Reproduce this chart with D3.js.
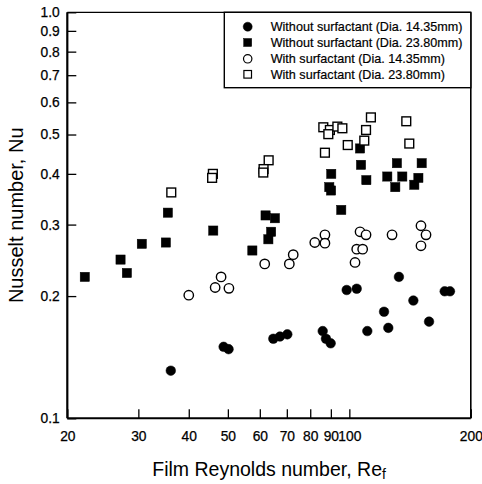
<!DOCTYPE html>
<html>
<head>
<meta charset="utf-8">
<script src="https://cdn.jsdelivr.net/npm/d3@7"></script>
<style>
  html, body { margin: 0; padding: 0; background: #fff; }
  svg { display: block; font-family: Arial, "Liberation Sans", Helvetica, sans-serif; }
</style>
</head>
<body>
<svg id="chart" width="482" height="484"></svg>
<script>
// ---- data (Film Reynolds number Re_f, Nusselt number Nu) ----
const seriesNames = [
  "Without surfactant (Dia. 14.35mm)",
  "Without surfactant (Dia. 23.80mm)",
  "With surfactant (Dia. 14.35mm)",
  "With surfactant (Dia. 23.80mm)"
];

const withoutSmallRe = [36.1, 48.8, 50.2, 64.8, 67.3, 70.2, 85.9, 87.5, 89.9, 98.5, 104.3, 110.8, 121.9, 124.9, 132.7, 144.1, 157.6, 172.3, 177.6];
const withoutSmallNu = [0.131, 0.150, 0.148, 0.157, 0.159, 0.161, 0.164, 0.157, 0.153, 0.207, 0.2085, 0.164, 0.183, 0.167, 0.223, 0.195, 0.173, 0.2055, 0.2055];

const withoutLargeRe = [22.1, 27.1, 28.1, 30.6, 35.1, 35.5, 46.0, 57.5, 62.0, 65.4, 64.0, 63.0, 90.2, 89.2, 90.1, 95.5, 106.3, 106.9, 110.2, 124.2, 131.2, 130.0, 135.3, 148.3, 144.9, 151.1];
const withoutLargeNu = [0.223, 0.246, 0.228, 0.269, 0.271, 0.321, 0.290, 0.259, 0.316, 0.311, 0.288, 0.276, 0.400, 0.371, 0.364, 0.326, 0.462, 0.421, 0.386, 0.394, 0.425, 0.371, 0.394, 0.391, 0.376, 0.425];

const withSmallRe = [40.0, 48.1, 46.5, 50.3, 61.7, 71.0, 72.6, 82.1, 87.0, 87.0, 106.3, 110.0, 104.3, 107.9, 103.3, 127.6, 150.5, 154.9, 150.5];
const withSmallNu = [0.201, 0.223, 0.210, 0.209, 0.240, 0.240, 0.253, 0.271, 0.283, 0.270, 0.288, 0.283, 0.261, 0.261, 0.242, 0.283, 0.298, 0.283, 0.266];

const withLargeRe = [36.2, 45.9, 45.7, 63.1, 61.3, 61.2, 86.2, 89.5, 88.7, 93.4, 96.1, 113.1, 110.0, 108.9, 99.1, 87.0, 138.4, 140.8];
const withLargeNu = [0.360, 0.400, 0.391, 0.432, 0.411, 0.403, 0.521, 0.513, 0.501, 0.523, 0.518, 0.551, 0.513, 0.483, 0.471, 0.451, 0.539, 0.475];

const xTickValues = [20, 30, 40, 50, 60, 70, 80, 90, 100, 200];
const yTickValues = [0.1, 0.2, 0.3, 0.4, 0.5, 0.6, 0.7, 0.8, 0.9, 1.0];
const yTickLabels = ["0.1", "0.2", "0.3", "0.4", "0.5", "0.6", "0.7", "0.8", "0.9", "1.0"];

(function () {
// ---- layout ----
const pLeft = 67.3, pRight = 470.8, pTop = 12.3, pBottom = 418.3;
const svg = d3.select("#chart");

const x = d3.scaleLog().domain([20, 200]).range([pLeft, pRight]);
const y = d3.scaleLog().domain([0.1, 1.0]).range([pBottom, pTop]);

// axes
const xAxis = d3.axisBottom(x)
  .tickValues(xTickValues)
  .tickFormat(d3.format("d"))
  .tickSizeInner(-9).tickSizeOuter(0).tickPadding(13);
const gx = svg.append("g").attr("transform", `translate(0,${pBottom})`).call(xAxis);
gx.select(".domain").remove();
gx.selectAll(".tick line").attr("stroke", "#000").attr("stroke-width", 1.3);
gx.selectAll(".tick text").attr("fill", "#000").attr("font-size", 13.8)
  .attr("stroke", "#000").attr("stroke-width", 0.25)
  .attr("font-family", "Arial, 'Liberation Sans', sans-serif");

const yAxis = d3.axisLeft(y)
  .tickValues(yTickValues)
  .tickFormat((d, i) => yTickLabels[i])
  .tickSizeInner(-9).tickSizeOuter(0).tickPadding(7.5);
const gy = svg.append("g").attr("transform", `translate(${pLeft},0)`).call(yAxis);
gy.select(".domain").remove();
gy.selectAll(".tick line").attr("stroke", "#000").attr("stroke-width", 1.3);
gy.selectAll(".tick text").attr("fill", "#000").attr("font-size", 13.8)
  .attr("stroke", "#000").attr("stroke-width", 0.25)
  .attr("font-family", "Arial, 'Liberation Sans', sans-serif");

// frame
svg.append("line").attr("x1", x(20)).attr("x2", x(200)).attr("y1", y(0.1)).attr("y2", y(0.1)).attr("stroke", "#000").attr("stroke-width", 2);
svg.append("line").attr("x1", x(20)).attr("x2", x(20)).attr("y1", y(0.1)).attr("y2", y(1.0)).attr("stroke", "#000").attr("stroke-width", 2.2);
svg.append("line").attr("x1", x(200)).attr("x2", x(200)).attr("y1", y(0.1)).attr("y2", y(1.0)).attr("stroke", "#000").attr("stroke-width", 1.6);
svg.append("line").attr("x1", x(20)).attr("x2", x(200)).attr("y1", y(1.0)).attr("y2", y(1.0)).attr("stroke", "#000").attr("stroke-width", 1.2);

// axis titles
const xt = svg.append("text")
  .attr("x", (pLeft + pRight) / 2).attr("y", 476)
  .attr("text-anchor", "middle").attr("font-size", 19.5).attr("fill", "#000");
xt.append("tspan").text("Film Reynolds number, Re");
xt.append("tspan").attr("font-size", 14).attr("dy", 3).text("f");

svg.append("text")
  .attr("transform", `translate(23,${(pTop + pBottom) / 2}) rotate(-90)`)
  .attr("text-anchor", "middle").attr("font-size", 20).attr("fill", "#000")
  .text("Nusselt number, Nu");

// ---- marks ----
const zip = (a, b) => a.map((v, i) => ({ x: v, y: b[i] }));
const plot = svg.append("g");

function drawCircles(data, filled) {
  plot.append("g").selectAll("circle").data(data).join("circle")
    .attr("cx", d => x(d.x)).attr("cy", d => y(d.y))
    .attr("r", filled ? 4.8 : 4.7)
    .attr("fill", filled ? "#000" : "#fff")
    .attr("stroke", "#000").attr("stroke-width", filled ? 0.5 : 1.4);
}
function drawSquares(data, filled) {
  const s = filled ? 9.2 : 8.8;
  plot.append("g").selectAll("rect").data(data).join("rect")
    .attr("x", d => x(d.x) - s / 2).attr("y", d => y(d.y) - s / 2)
    .attr("width", s).attr("height", s)
    .attr("fill", filled ? "#000" : "#fff")
    .attr("stroke", "#000").attr("stroke-width", filled ? 0.5 : 1.4);
}

drawCircles(zip(withoutSmallRe, withoutSmallNu), true);
drawSquares(zip(withoutLargeRe, withoutLargeNu), true);
drawCircles(zip(withSmallRe, withSmallNu), false);
drawSquares(zip(withLargeRe, withLargeNu), false);

// ---- legend ----
const legLeft = 224.3, legBottom = 87.7;
svg.append("rect")
  .attr("x", legLeft).attr("y", pTop)
  .attr("width", pRight - legLeft).attr("height", legBottom - pTop)
  .attr("fill", "#fff").attr("stroke", "#000").attr("stroke-width", 1.4);

const legRows = [26.7, 42.5, 58.8, 74.3];
const legendSyms = [
  { type: "circle", filled: true },
  { type: "square", filled: true },
  { type: "circle", filled: false },
  { type: "square", filled: false }
];
const lg = svg.append("g");
seriesNames.forEach((name, i) => {
  const sym = legendSyms[i];
  const cy = legRows[i], cx = 247.7;
  if (sym.type === "circle") {
    lg.append("circle").attr("cx", cx).attr("cy", cy).attr("r", sym.filled ? 4.5 : 4.2)
      .attr("fill", sym.filled ? "#000" : "#fff").attr("stroke", "#000").attr("stroke-width", sym.filled ? 0.5 : 1.2);
  } else {
    const s = sym.filled ? 8 : 7.6;
    lg.append("rect").attr("x", cx - s / 2).attr("y", cy - s / 2).attr("width", s).attr("height", s)
      .attr("fill", sym.filled ? "#000" : "#fff").attr("stroke", "#000").attr("stroke-width", sym.filled ? 0.5 : 1.2);
  }
  lg.append("text").attr("x", 270.7).attr("y", cy + 4.5)
    .attr("font-size", 12.6).attr("fill", "#000")
    .attr("stroke", "#000").attr("stroke-width", 0.2).text(name);
});
})();
</script>
</body>
</html>
